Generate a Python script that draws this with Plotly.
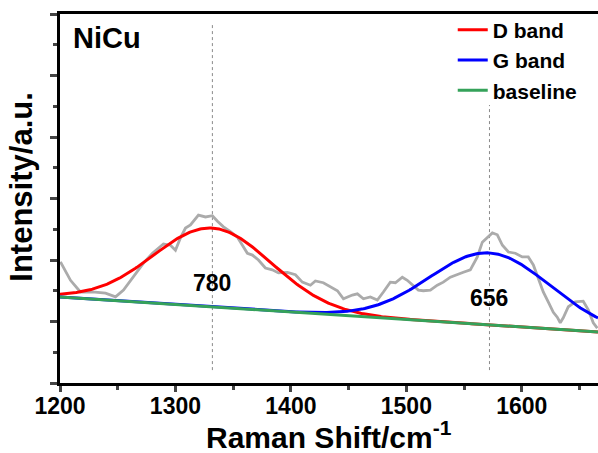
import numpy as np
import plotly.graph_objects as go

# Raw Raman spectrum (Raman shift in cm^-1, intensity in a.u.)
shift = [1200.4, 1209.1, 1217.7, 1228.1, 1239.4, 1248.1, 1255.0, 1262.8, 1272.3, 1280.1,
         1285.3, 1289.6, 1295.7, 1300.0, 1304.3, 1308.7, 1313.0, 1319.9, 1326.0, 1332.0,
         1336.4, 1341.6, 1347.6, 1353.7, 1358.0, 1362.3, 1366.7, 1371.9, 1377.9, 1383.9,
         1389.2, 1397.0, 1403.9, 1409.9, 1416.9, 1421.2, 1428.1, 1434.2, 1440.3, 1445.5,
         1453.2, 1457.6, 1462.8, 1468.8, 1474.9, 1480.1, 1486.1, 1490.5, 1496.5, 1500.8,
         1505.2, 1510.4, 1514.7, 1520.8, 1526.8, 1532.0, 1538.1, 1544.2, 1549.4, 1555.4,
         1561.5, 1565.8, 1570.2, 1574.5, 1578.8, 1583.2, 1588.4, 1594.4, 1600.4, 1605.6,
         1610.0, 1614.3, 1618.6, 1622.9, 1627.3, 1630.7, 1633.3, 1635.9, 1640.3, 1646.3,
         1653.2, 1657.6, 1661.9, 1665.4]
intensity = [1.97, 1.67, 1.48, 1.48, 1.46, 1.40, 1.51, 1.71, 1.95, 2.11,
             2.20, 2.26, 2.24, 2.16, 2.36, 2.52, 2.57, 2.73, 2.70, 2.72,
             2.63, 2.54, 2.46, 2.37, 2.24, 2.11, 2.08, 2.00, 1.87, 1.84,
             1.79, 1.80, 1.76, 1.64, 1.59, 1.66, 1.63, 1.56, 1.50, 1.37,
             1.43, 1.45, 1.37, 1.40, 1.35, 1.48, 1.64, 1.63, 1.72, 1.67,
             1.59, 1.51, 1.50, 1.51, 1.59, 1.64, 1.72, 1.77, 1.80, 1.84,
             2.05, 2.29, 2.37, 2.44, 2.41, 2.24, 2.13, 2.11, 2.05, 2.05,
             1.92, 1.71, 1.48, 1.32, 1.15, 1.07, 0.98, 1.06, 1.24, 1.32,
             1.33, 1.19, 0.98, 0.89]

# Fitted components: Gaussian bands on a linear baseline
band_names = ["D band", "G band"]
band_centers = [1332.0, 1572.0]
band_amplitudes = [1.28, 1.17]
band_sigmas = [51.0, 52.0]
band_colors = ["#ff0000", "#0000ff"]
band_labels = ["780", "656"]
band_label_y = [1.63, 1.39]
peak_line_top = [5.85, 4.52]

baseline_ends = [1200.0, 1666.0]
baseline_values = [1.40, 0.83]

x_range = [1200, 1666]
y_range = [0, 6]
x_ticks = [1200, 1300, 1400, 1500, 1600]

FONT = "Liberation Sans, Arial, sans-serif"

xs = np.linspace(x_range[0], x_range[1], 400)
base = np.interp(xs, baseline_ends, baseline_values)

fig = go.Figure()

fig.add_trace(go.Scatter(
    x=shift, y=intensity, mode="lines", showlegend=False,
    line=dict(color="#ababab", width=2.8), hoverinfo="skip"))

for name, c, a, s, col in zip(band_names, band_centers, band_amplitudes, band_sigmas, band_colors):
    fig.add_trace(go.Scatter(
        x=xs, y=base + a * np.exp(-(xs - c) ** 2 / (2 * s ** 2)),
        mode="lines", name=name, line=dict(color=col, width=3)))

fig.add_trace(go.Scatter(
    x=xs, y=base, mode="lines", name="baseline",
    line=dict(color="#35a25a", width=3)))

# dotted markers at the band centres
for c, top in zip(band_centers, peak_line_top):
    fig.add_shape(type="line", x0=c, x1=c, y0=0.21, y1=top, xref="x", yref="y",
                  line=dict(color="#8a8a8a", width=1, dash="dot"), layer="below")

for c, lab, ly in zip(band_centers, band_labels, band_label_y):
    fig.add_annotation(x=c, y=ly, text=lab, showarrow=False,
                       font=dict(family=FONT, size=23, color="black", weight="bold"))

fig.add_annotation(x=0.02, y=0.985, xref="paper", yref="paper", xanchor="left", yanchor="top",
                   text="NiCu", showarrow=False,
                   font=dict(family=FONT, size=29, color="black", weight="bold"))

# axis titles
fig.add_annotation(x=-0.072, y=0.53, xref="paper", yref="paper", textangle=-90,
                   xanchor="center", yanchor="middle",
                   text="Intensity/a.u.", showarrow=False,
                   font=dict(family=FONT, size=31, color="black", weight="bold"))
fig.add_annotation(x=0.5, y=-0.141, xref="paper", yref="paper",
                   xanchor="center", yanchor="middle",
                   text="Raman Shift/cm<sup>-1</sup>", showarrow=False,
                   font=dict(family=FONT, size=30, color="black", weight="bold"))

fig.update_layout(
    width=598, height=453,
    margin=dict(l=60, r=0, t=14, b=70),
    paper_bgcolor="white", plot_bgcolor="white",
    font=dict(family=FONT, color="black", weight="bold"),
    legend=dict(x=0.73, y=1.012, xanchor="left", yanchor="top",
                bgcolor="rgba(0,0,0,0)", font=dict(family=FONT, size=21, weight="bold"),
                itemwidth=30, tracegroupgap=0),
    xaxis=dict(range=x_range, tickvals=x_ticks, ticks="outside", ticklen=6, tickwidth=2.5,
               showline=True, linewidth=3, linecolor="black", mirror=True,
               showgrid=False, zeroline=False, ticklabelstandoff=-6,
               tickfont=dict(family=FONT, size=23, color="black", weight="bold"),
               minor=dict(ticks="outside", dtick=50, ticklen=4, tickwidth=2.5, showgrid=False)),
    yaxis=dict(range=y_range, dtick=1, ticks="outside", ticklen=7, tickwidth=2.5,
               showticklabels=False, showline=True, linewidth=3, linecolor="black",
               showgrid=False, zeroline=False,
               minor=dict(ticks="outside", dtick=0.5, ticklen=4, tickwidth=2.5, showgrid=False)),
)

fig.write_html("out.html")
